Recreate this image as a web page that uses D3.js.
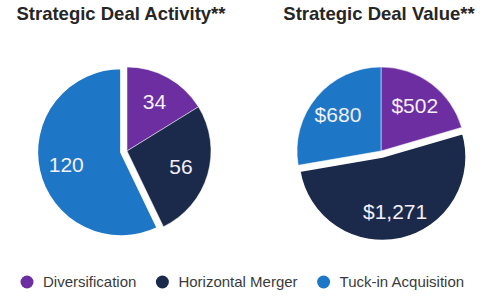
<!DOCTYPE html>
<html>
<head>
<meta charset="utf-8">
<script src="https://cdn.jsdelivr.net/npm/d3@7"></script>
<style>
  body { margin: 0; background: #fff; }
  svg { display: block; font-family: "Liberation Sans", Arial, sans-serif; }
</style>
</head>
<body>
<svg width="500" height="300"></svg>
<script>
var WIDTH = 500;
var HEIGHT = 300;

// chart data
var categories = ['Diversification', 'Horizontal Merger', 'Tuck-in Acquisition'];
var activityValues = [34, 56, 120];
var valueValues = [502, 1271, 680];
var activityLabels = ['34', '56', '120'];
var valueLabels = ['$502', '$1,271', '$680'];
var titles = ['Strategic Deal Activity**', 'Strategic Deal Value**'];

var colorScale = d3.scaleOrdinal()
    .domain(categories)
    .range(['#6c2ea1', '#1b2a4a', '#1e76c6']);

var svg = d3.select('svg')
    .attr('width', WIDTH)
    .attr('height', HEIGHT);

var radius = 84;
var explode = 6; //how far the biggest slice is pulled out

var pie = d3.pie()
    .value(function(d) { return d.value; })
    .sort(null); //keep the order of the categories

var arc = d3.arc().innerRadius(0).outerRadius(radius);
var labelArc = d3.arc().innerRadius(radius * 0.67).outerRadius(radius * 0.67);

function drawPie(cx, cy, titleX, title, values, labels) {
    var data = categories.map(function(c, i) {
        return { label: c, value: values[i], text: labels[i] };
    });
    var biggest = d3.max(values);

    svg.append('text')
        .attr('x', titleX)
        .attr('y', 20)
        .attr('text-anchor', 'middle')
        .attr('font-size', 18.5)
        .attr('font-weight', 'bold')
        .attr('fill', '#262626')
        .text(title);

    var g = svg.append('g')
        .attr('transform', 'translate(' + cx + ',' + cy + ')');

    var slices = g.selectAll('g.slice')
        .data(pie(data))
        .enter()
        .append('g')
        .attr('class', 'slice')
        .attr('transform', function(d) {
            if (d.data.value !== biggest) return null;
            var mid = (d.startAngle + d.endAngle) / 2;
            return 'translate(' + (Math.sin(mid) * explode) + ',' + (-Math.cos(mid) * explode) + ')';
        });

    slices.append('path')
        .attr('d', arc)
        .attr('fill', function(d) { return colorScale(d.data.label); })
        .attr('stroke', '#fff')
        .attr('stroke-width', function(d) { return d.data.value === biggest ? 2 : 0.5; });

    slices.append('text')
        .attr('transform', function(d) {
            return 'translate(' + labelArc.centroid(d) + ')';
        })
        .attr('dy', '0.35em')
        .attr('text-anchor', 'middle')
        .attr('font-size', 21)
        .attr('fill', '#f4f0fa')
        .text(function(d) { return d.data.text; });
}

drawPie(127, 151, 121, titles[0], activityValues, activityLabels);
drawPie(381, 151, 379, titles[1], valueValues, valueLabels);

// legend along the bottom
var legend = svg.append('g').attr('transform', 'translate(0,282)');
var x = 27;
categories.forEach(function(c) {
    legend.append('circle')
        .attr('cx', x)
        .attr('cy', 0)
        .attr('r', 6.5)
        .attr('fill', colorScale(c));
    var t = legend.append('text')
        .attr('x', x + 16)
        .attr('y', 0)
        .attr('dy', '0.35em')
        .attr('font-size', 15)
        .attr('fill', '#3a3a3a')
        .text(c);
    x = x + 16 + t.node().getComputedTextLength() + 26;
});
</script>
</body>
</html>
